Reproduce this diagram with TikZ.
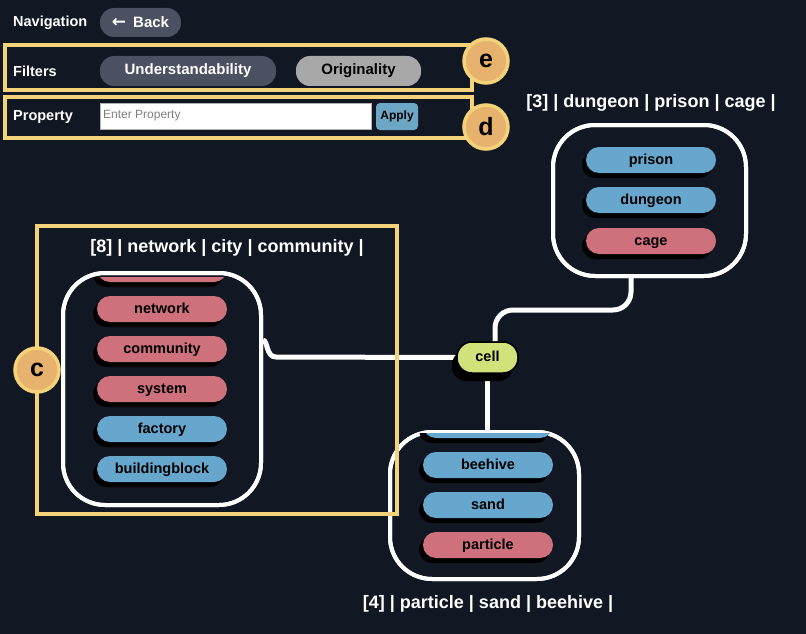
\documentclass[tikz,border=0pt]{standalone}
\usepackage{fontspec}
\setmainfont{Liberation Sans}
\newfontfamily\djvfont{DejaVu Sans}
\usetikzlibrary{shadows}
\definecolor{bg}{HTML}{111723}
\definecolor{ylw}{HTML}{F3D27A}
\definecolor{badge}{HTML}{E6B26E}
\definecolor{pred}{HTML}{CE717D}
\definecolor{pblue}{HTML}{67A7CD}
\definecolor{pgreen}{HTML}{D1E27A}
\definecolor{btngray}{HTML}{4B5160}
\definecolor{ltgray}{HTML}{A8A8A8}
\definecolor{applyblue}{HTML}{6EA6C6}
\newcommand{\pillfnt}{\fontsize{14.5}{16}\selectfont\bfseries}
\newcommand{\titlefnt}{\fontsize{18}{20}\selectfont\bfseries}
\newcommand{\lblfnt}{\fontsize{14.5}{16}\selectfont\bfseries}
\newcommand{\badgefnt}{\fontsize{25}{28}\selectfont\bfseries}
\begin{document}
\begin{tikzpicture}[x=1pt,y=-1pt,
  conn/.style={draw=white, line width=5pt},
  grp/.style={draw=white, line width=4pt, rounded corners=42pt, inner sep=0pt},
  pill/.style={rectangle, rounded corners=13pt, minimum width=130pt, minimum height=26pt, inner sep=0pt, font=\pillfnt, text=black,
    text height=10.5pt, text depth=2pt,
    general shadow={shadow xshift=-4pt, shadow yshift=-5pt, fill=black}},
  redpill/.style={pill, fill=pred},
  bluepill/.style={pill, fill=pblue},
  cellstyle/.style={rectangle, rounded corners=15pt, minimum width=61pt, minimum height=31pt, inner sep=0pt,
      fill=pgreen, draw=black, line width=1.5pt, font=\pillfnt, text=black, text height=10.5pt, text depth=2pt,
      general shadow={shadow xshift=-5pt, shadow yshift=-8pt, fill=black}},
  ybox/.style={draw=ylw, line width=3.5pt, inner sep=0pt},
  badgec/.style={circle, fill=badge, draw=ylw, line width=3.5pt, minimum size=44pt, inner sep=0pt, font=\badgefnt, text=black},
  title/.style={text=white, font=\titlefnt, inner sep=0pt},
  lbl/.style={text=white, font=\lblfnt, anchor=west, inner sep=0pt},
  btn/.style={rectangle, rounded corners=14pt, inner sep=0pt, font=\fontsize{15}{17}\selectfont\bfseries}
]
\useasboundingbox[fill=bg] (0,0) rectangle (806,634);

% group boxes (nodes)
\node[grp, minimum width=193pt, minimum height=151pt] (g3) at (649.5,200.5) {};
\node[grp, minimum width=198pt, minimum height=232pt] (g8) at (162,389) {};
\node[grp, minimum width=189pt, minimum height=147pt] (g4) at (484.5,505.5) {};

% cell node
\node[cellstyle] (cell) at (487.5,357.5) {cell};

% connectors
\draw[conn, rounded corners=18pt] (631,0 |- g3.south) -- (631,310) -- (495,310) -- (495,0 |- cell.north);
\draw[conn] (cell.south) -- (cell.south |- g4.north);
\draw[conn] (cell.west) -- (276,357) .. controls (266,357) and (268,341) .. (g8.east |- 0,340);

% redraw group boxes and cell on top of connectors
\node[grp, minimum width=193pt, minimum height=151pt] at (g3) {};
\node[grp, minimum width=198pt, minimum height=232pt] at (g8) {};
\node[grp, minimum width=189pt, minimum height=147pt] at (g4) {};
\node[cellstyle] at (cell) {cell};

% pills top right
\node[bluepill] (prison) at (651,160) {prison};
\node[bluepill] (dungeon) at (651,200) {dungeon};
\node[redpill] (cage) at (651,241) {cage};

% pills left
\begin{scope}
  \clip (80,277) rectangle (250,300);
  \node[redpill] (hidden8) at (162,269) {};
\end{scope}
\node[redpill] (network) at (162,309) {network};
\node[redpill] (community) at (162,349) {community};
\node[redpill] (system) at (162,389) {system};
\node[bluepill] (factory) at (162,429) {factory};
\node[bluepill] (buildingblock) at (162,469) {buildingblock};

% pills bottom
\begin{scope}
  \clip (400,433) rectangle (570,452);
  \node[bluepill] (hidden4) at (488,425) {};
\end{scope}
\node[bluepill] (beehive) at (488,465) {beehive};
\node[bluepill] (sand) at (488,505) {sand};
\node[redpill] (particle) at (488,545) {particle};

% titles
\node[title] (t3) at (651,103) {[3] | dungeon | prison | cage |};
\node[title] (t8) at (227,248) {[8] | network | city | community |};
\node[title] (t4) at (488,604) {[4] | particle | sand | beehive |};

% header
\node[lbl] (nav) at (13,22.5) {Navigation};
\node[btn, fill=btngray, text=white, minimum width=81pt, minimum height=29pt] (back) at (140.5,22.5) {{\djvfont\bfseries\fontsize{17}{18}\selectfont ←}\hspace{7pt}Back};
\node[lbl] (filters) at (13,71.5) {Filters};
\node[btn, fill=btngray, text=white, minimum width=176pt, minimum height=30pt] (und) at (188,71) {Understandability};
\node[btn, fill=ltgray, text=black, minimum width=125pt, minimum height=30pt] (orig) at (358.5,71) {Originality};
\node[lbl] (prop) at (13,117) {Property};
\node[rectangle, fill=white, draw=gray!60, line width=0.6pt, minimum width=271pt, minimum height=26pt, inner sep=0pt] (input) at (235.5,116) {};
\node[anchor=west, inner sep=0pt, text=gray, font=\fontsize{12}{14}\selectfont] (ph) at (103,116) {Enter Property};
\node[rectangle, rounded corners=4pt, fill=applyblue, minimum width=42pt, minimum height=27pt, inner sep=0pt,
      font=\fontsize{12}{14}\selectfont\bfseries, text=black] (apply) at (397,116.5) {Apply};

% yellow annotation boxes
\node[ybox, minimum width=467pt, minimum height=45pt] (boxe) at (238.5,67.5) {};
\node[ybox, minimum width=467pt, minimum height=41pt] (boxd) at (238.5,117.5) {};
\node[ybox, minimum width=360pt, minimum height=288pt] (boxc) at (217,370) {};

% badges
\node[badgec] (be) at (486,61) {e};
\node[badgec] (bd) at (486,127) {d};
\node[badgec] (bc) at (37,370) {c};
\end{tikzpicture}
\end{document}
